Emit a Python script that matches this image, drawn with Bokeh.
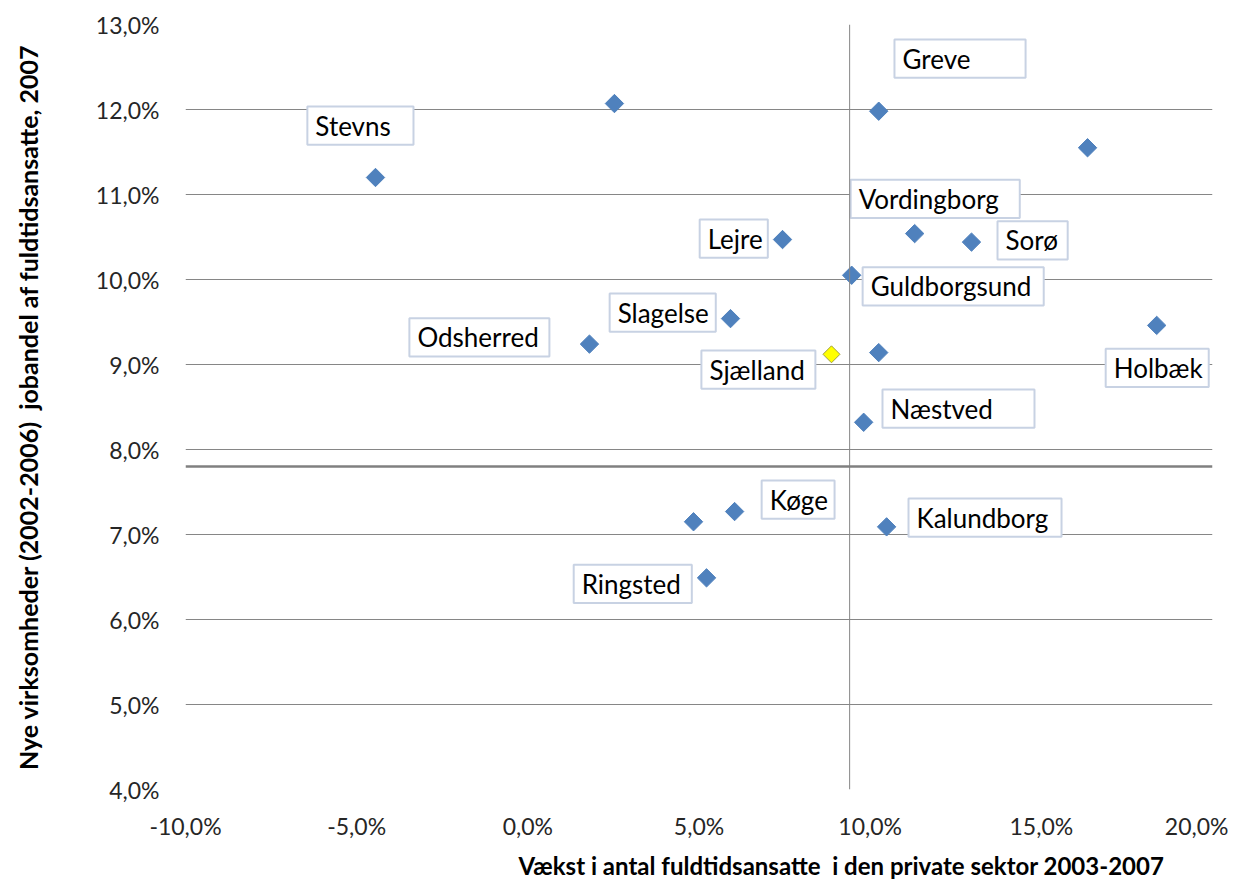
from bokeh.plotting import figure
from bokeh.models import FixedTicker, CustomJSTickFormatter, Span, ColumnDataSource, Title
from bokeh.core.properties import value
from bokeh.embed import file_html
from bokeh.resources import INLINE

# ---- data (percent) ----
growth = [-4.45, 2.53, 10.25, 16.35, 7.44, 11.30, 12.96, 9.46, 5.92, 1.80,
          10.25, 18.37, 9.81, 4.84, 6.04, 10.48, 5.22]
share = [11.20, 12.07, 11.98, 11.55, 10.47, 10.54, 10.44, 10.05, 9.54, 9.24,
         9.14, 9.46, 8.32, 7.15, 7.27, 7.09, 6.49]
region_growth = [8.87]
region_share = [9.12]
avg_growth = 9.4
avg_share = 7.8

x_ticks = [-10, -5, 0, 5, 10, 15, 20]
y_ticks = [4, 5, 6, 7, 8, 9, 10, 11, 12, 13]

label_names = ["Greve", "Stevns", "Vordingborg", "Lejre", "Sorø", "Guldborgsund",
               "Slagelse", "Odsherred", "Sjælland", "Holbæk", "Næstved", "Køge",
               "Kalundborg", "Ringsted"]
label_left = [10.71, -6.44, 9.43, 5.02, 13.72, 9.78, 2.39, -3.46, 5.07, 16.88,
              10.36, 6.83, 11.12, 1.34]
label_width = [3.83, 3.10, 4.94, 1.99, 2.05, 5.29, 3.10, 4.09, 3.33, 3.01,
               4.44, 2.13, 4.47, 3.45]
label_y = [12.60, 11.81, 10.95, 10.48, 10.46, 9.92, 9.61, 9.32, 8.94, 8.96,
           8.48, 7.41, 7.20, 6.42]
label_h = 0.45

x_title = "Vækst i antal fuldtidsansatte \u00a0i den private sektor 2003-2007"
y_title = "Nye virksomheder (2002-2006) \u00a0jobandel af fuldtidsansatte, 2007"

p = figure(frame_width=1027, frame_height=765, x_range=(-10, 20), y_range=(4, 13),
           output_backend="svg", toolbar_location=None,
           min_border_left=185, min_border_right=16, min_border_top=24,
           min_border_bottom=0)
p.outline_line_color = None
p.background_fill_color = "white"

p.xaxis.ticker = FixedTicker(ticks=x_ticks)
p.yaxis.ticker = FixedTicker(ticks=y_ticks)
fmt = CustomJSTickFormatter(code="return tick.toFixed(1).replace('.', ',') + '%';")
p.xaxis.formatter = fmt
p.yaxis.formatter = fmt
p.xgrid.grid_line_color = None
p.ygrid.grid_line_color = "#868686"
p.ygrid.grid_line_width = 1

for ax in (p.xaxis, p.yaxis):
    ax.axis_line_color = None
    ax.major_tick_line_color = None
    ax.minor_tick_line_color = None
    ax.major_tick_out = 0
    ax.major_tick_in = 0
    ax.major_label_text_font = "Lato"
    ax.major_label_text_font_size = "23px"
    ax.major_label_text_color = "#262626"
    ax.axis_label_text_font = "Lato"
    ax.axis_label_text_font_style = "bold"
    ax.axis_label_text_font_size = "25px"
    ax.axis_label_text_color = "black"

p.yaxis.major_label_standoff = 26
p.yaxis.axis_label_standoff = 50
p.xaxis.major_label_standoff = 22
p.yaxis.axis_label = y_title

p.add_layout(Title(text=x_title, align="left", offset=333, standoff=13,
                   text_font="Lato", text_font_style="bold", text_font_size="24px",
                   text_color="black"), "below")

p.add_layout(Span(location=avg_growth, dimension="height", line_color="#868686", line_width=1))
p.add_layout(Span(location=avg_share, dimension="width", line_color="#808080", line_width=2.5))

# label boxes
lsrc = ColumnDataSource(dict(
    name=label_names,
    left=label_left,
    right=[l + w for l, w in zip(label_left, label_width)],
    top=[y + label_h / 2 for y in label_y],
    bottom=[y - label_h / 2 for y in label_y],
    y=label_y,
))
p.quad(left="left", right="right", top="top", bottom="bottom", source=lsrc,
       fill_color="white", line_color="#C8D2E3", line_width=2)
p.text(x="left", y="y", text="name", source=lsrc, x_offset=8,
       text_font=value("Lato"), text_font_size="26px", text_color="black",
       text_baseline="middle", text_align="left")

# points
p.scatter(growth, share, marker="square", angle=45, angle_units="deg", size=13,
          fill_color="#4F81BD", line_color="#4F81BD")
p.scatter(region_growth, region_share, marker="square", angle=45, angle_units="deg",
          size=12, fill_color="#FFFF00", line_color="#A0A040", line_width=1)

open("out.html", "w").write(file_html(p, INLINE))
